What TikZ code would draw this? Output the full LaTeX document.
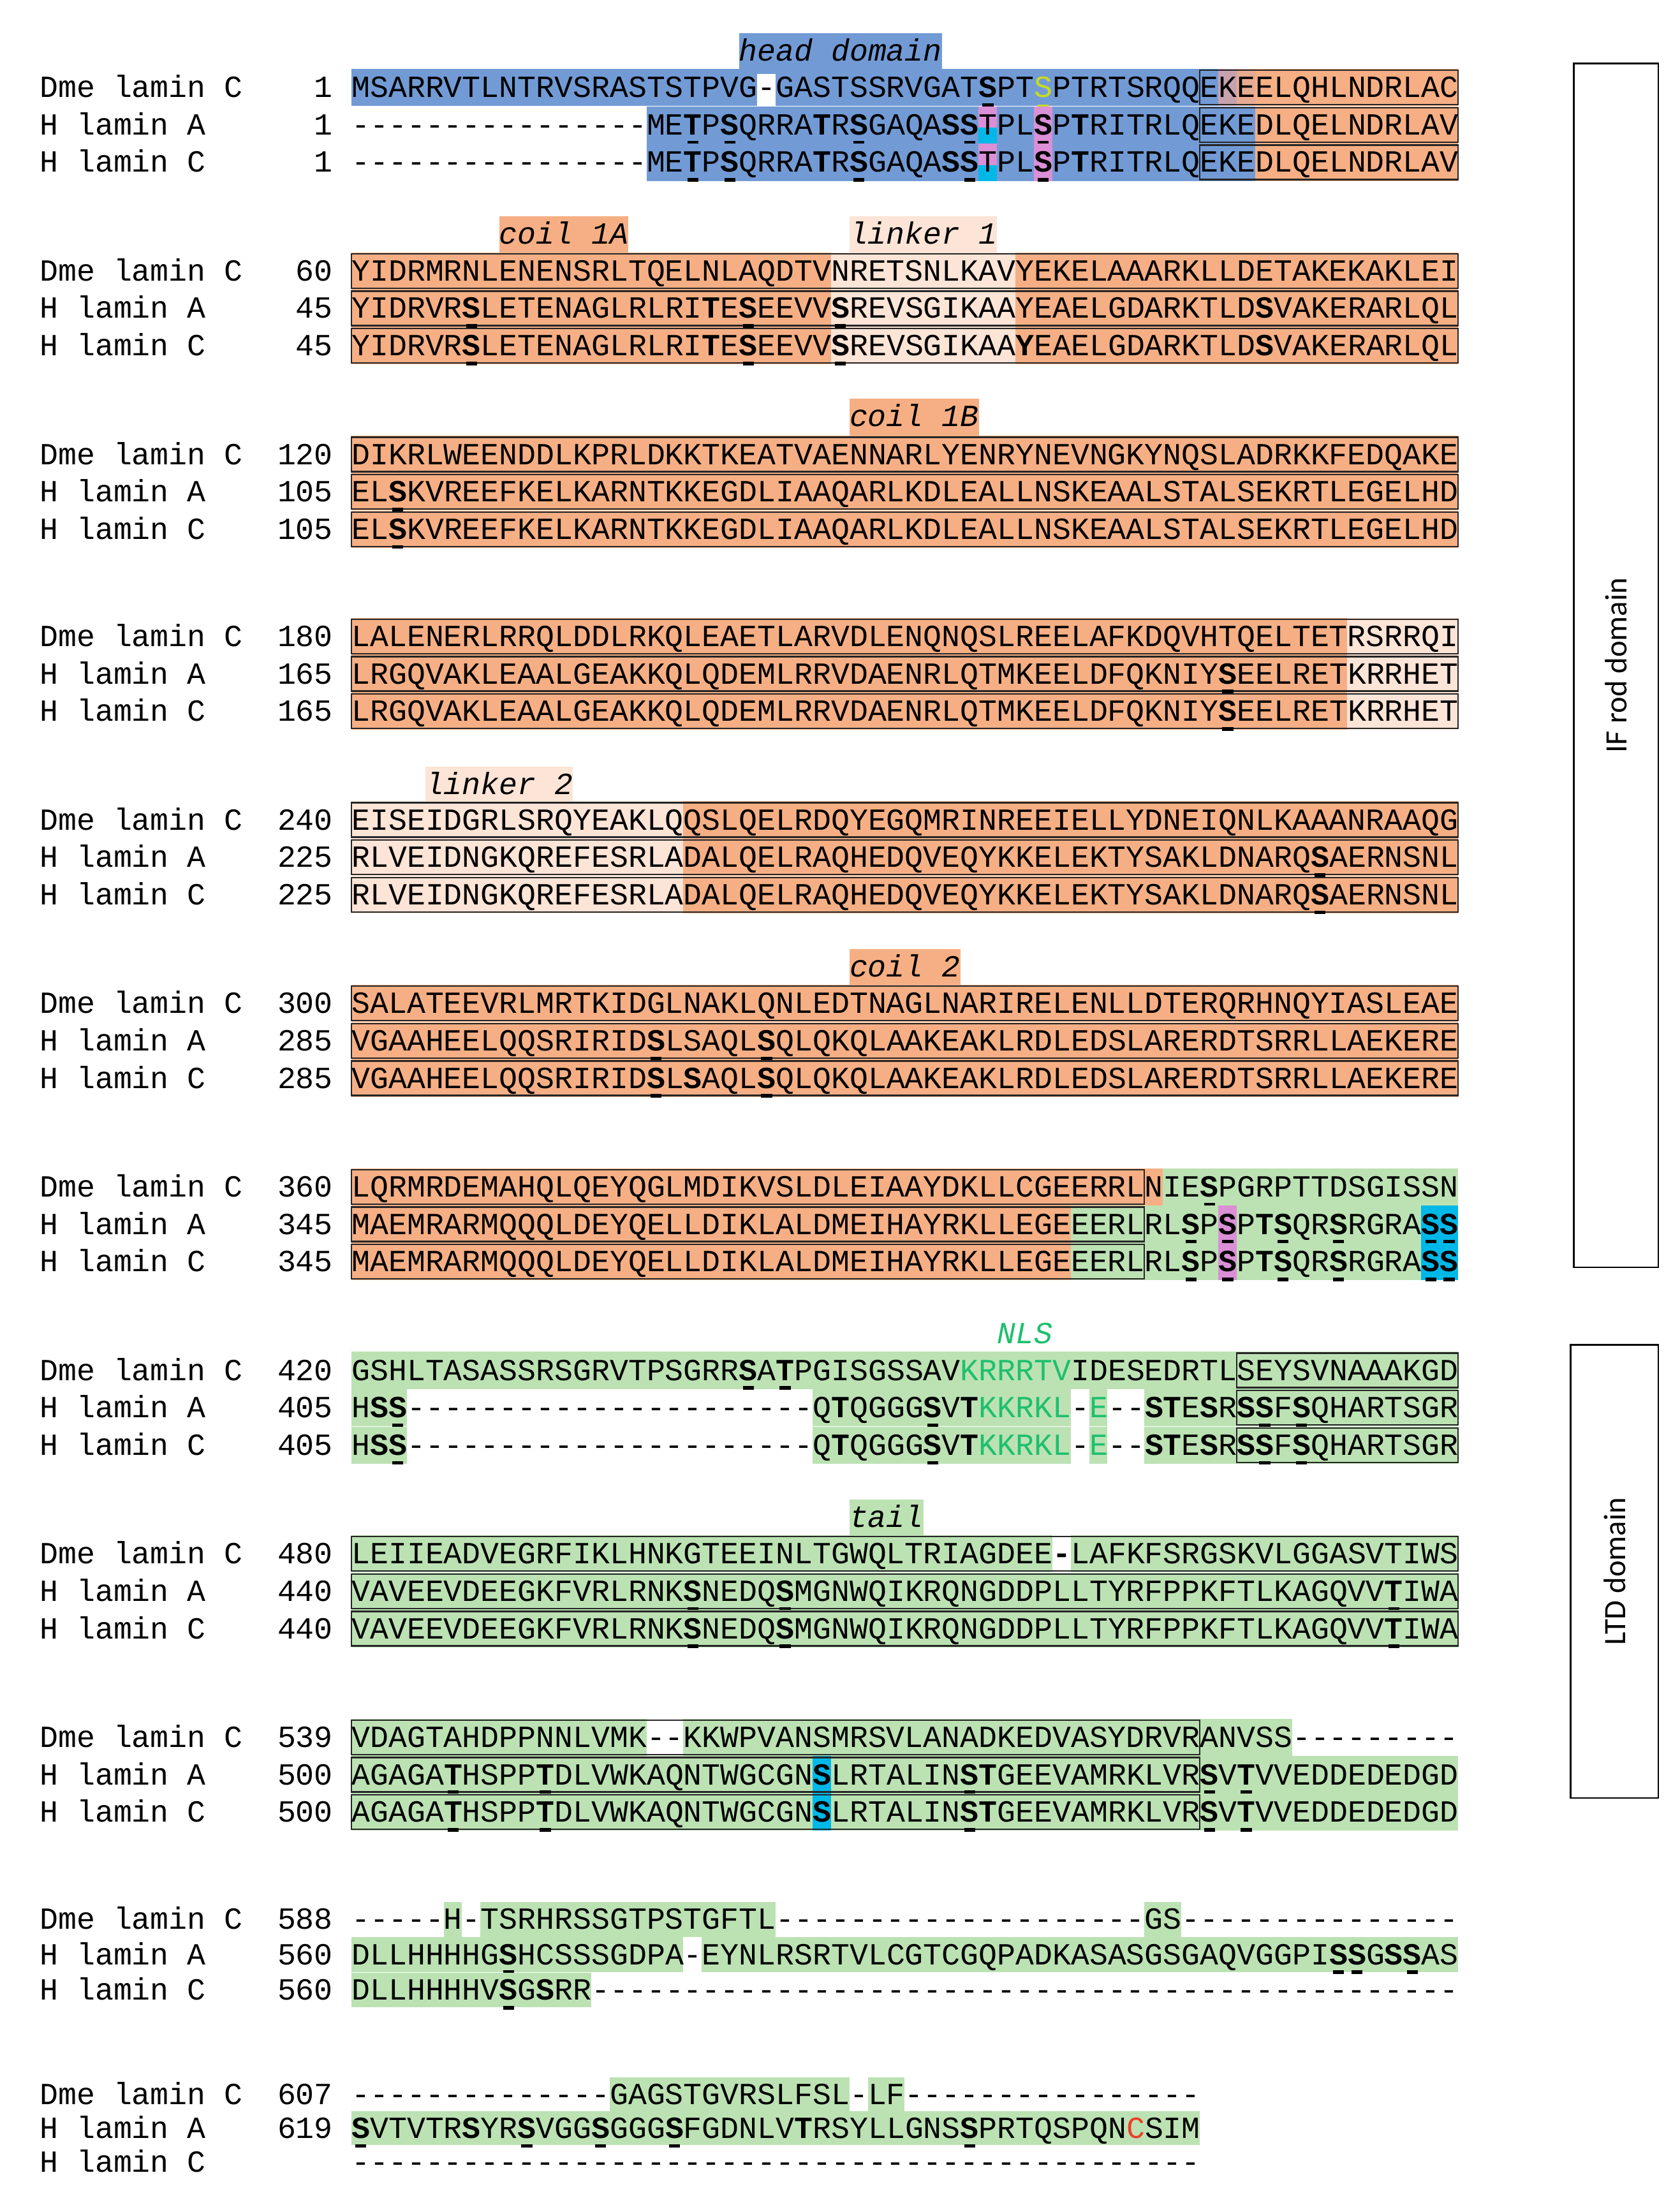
\documentclass[tikz,border=0pt]{standalone}
\usepackage{fontspec}
\setmonofont{Liberation Mono}
\newfontfamily\carlitof{Carlito}
\usetikzlibrary{calc}
\definecolor{hblue}{HTML}{729BD6}
\definecolor{corng}{HTML}{F6AF84}
\definecolor{lpeach}{HTML}{FCE4D6}
\definecolor{tgrn}{HTML}{BCE2B3}
\definecolor{cyn}{HTML}{00B8E8}
\definecolor{pnk}{HTML}{DA8FD6}
\definecolor{nlsc}{HTML}{1FBF6E}
\definecolor{ylw}{HTML}{C8DC1E}
\definecolor{mixa}{HTML}{C7A2AE}
\definecolor{mixb}{HTML}{E6AB92}
\definecolor{redc}{HTML}{F03C28}
\def\cw{13.0667}
\def\hh{13.2}
\newcommand\sqf{\ttfamily\fontsize{21.78}{26}\selectfont}
\newcommand\U[1]{\makebox[0pt][l]{\hspace{2.6pt}\rule[-6.8pt]{7.8pt}{2.6pt}}\textbf{#1}}
\newcommand\B[1]{\textbf{#1}}
\newcommand\Yl[1]{\textcolor{ylw}{\makebox[0pt][l]{\hspace{2.6pt}\rule[-6.8pt]{7.8pt}{1.6pt}}#1}}
\newcommand\G[1]{\textcolor{nlsc}{#1}}
\newcommand\bg[4]{\fill[#1] ({249+#3*\cw},{#2-\hh}) rectangle ({249+#4*\cw},{#2+\hh});}
\newcommand\bx[3]{\draw[boxl] ({249+#2*\cw},{#1-12.2}) rectangle ({249+#3*\cw},{#1+12.2});}
\newcommand\sq[2]{\node[seqt] at (249,{#1+7}) {#2};}
\newcommand\names[6]{%
 \node[lbl] at (28,{#1+7}) {Dme lamin C};\node[num] at (236,{#1+7}) {#4};
 \node[lbl] at (28,{#2+7}) {H lamin A};\node[num] at (236,{#2+7}) {#5};
 \node[lbl] at (28,{#3+7}) {H lamin C};\node[num] at (236,{#3+7}) {#6};}
\newcommand\ann[4]{\node[annt,fill=#1] at ({249+#3*\cw},{#2+7}) {\strut #4};}
\begin{document}
\begin{tikzpicture}[x=1pt,y=-1pt,
 seqt/.style={anchor=base west,inner sep=0pt,font=\sqf},
 lbl/.style={anchor=base west,inner sep=0pt,font=\sqf},
 num/.style={anchor=base east,inner sep=0pt,font=\sqf},
 annt/.style={anchor=base west,inner xsep=0pt,inner ysep=1.5pt,font=\sqf\itshape},
 boxl/.style={draw=black!85,line width=1.1pt},
 domb/.style={draw=black,line width=1.3pt}]
\useasboundingbox (0,0) rectangle (1190,1556);
\fill[white] (0,0) rectangle (1190,1556);
% ---------- Block 1
\ann{hblue}{36}{21}{head domain}
\bg{hblue}{62}{0}{22}\bg{hblue}{62}{23}{47}\bg{mixa}{62}{47}{48}\bg{mixb}{62}{48}{49}\bg{corng}{62}{49}{60}
\bx{62}{46}{60}
\sq{62}{MSARRVTLNTRVSRASTSTPVG-GASTSSRVGAT\U{S}PT\Yl{S}PTRTSRQQEKEELQHLNDRLAC}
\foreach \yy in {88.5,115}{
 \bg{hblue}{\yy}{16}{49}\bg{corng}{\yy}{49}{60}
 \fill[pnk] ({249+34*\cw},{\yy-\hh}) rectangle ({249+35*\cw},{\yy+2});
 \fill[cyn] ({249+34*\cw},{\yy+2}) rectangle ({249+35*\cw},{\yy+\hh});
 \bg{pnk}{\yy}{37}{38}
 \bx{\yy}{46}{60}
 \sq{\yy}{----------------ME\U{T}P\U{S}QRRA\B{T}R\U{S}GAQA\B{S}\U{S}TPL\U{S}P\B{T}RITRLQEKEDLQELNDRLAV}}
\names{62}{88.5}{115}{1}{1}{1}
% ---------- Block 2
\ann{corng}{166}{8}{coil 1A}\ann{lpeach}{166}{27}{linker 1}
\foreach \yy in {192,218.5,245}{\bg{corng}{\yy}{0}{26}\bg{lpeach}{\yy}{26}{36}\bg{corng}{\yy}{36}{60}\bx{\yy}{0}{60}}
\sq{192}{YIDRMRNLENENSRLTQELNLAQDTVNRETSNLKAVYEKELAAARKLLDETAKEKAKLEI}
\sq{218.5}{YIDRVR\U{S}LETENAGLRLRI\B{T}E\U{S}EEVV\U{S}REVSGIKAAYEAELGDARKTLD\B{S}VAKERARLQL}
\sq{245}{YIDRVR\U{S}LETENAGLRLRI\B{T}E\U{S}EEVV\U{S}REVSGIKAA\B{Y}EAELGDARKTLD\B{S}VAKERARLQL}
\names{192}{218.5}{245}{60}{45}{45}
% ---------- Block 3
\ann{corng}{295}{27}{coil 1B}
\foreach \yy in {322,348.5,375}{\bg{corng}{\yy}{0}{60}\bx{\yy}{0}{60}}
\sq{322}{DIKRLWEENDDLKPRLDKKTKEATVAENNARLYENRYNEVNGKYNQSLADRKKFEDQAKE}
\sq{348.5}{EL\U{S}KVREEFKELKARNTKKEGDLIAAQARLKDLEALLNSKEAALSTALSEKRTLEGELHD}
\sq{375}{EL\U{S}KVREEFKELKARNTKKEGDLIAAQARLKDLEALLNSKEAALSTALSEKRTLEGELHD}
\names{322}{348.5}{375}{120}{105}{105}
% ---------- Block 4
\foreach \yy in {451,477.5,504}{\bg{corng}{\yy}{0}{54}\bg{lpeach}{\yy}{54}{60}\bx{\yy}{0}{60}}
\sq{451}{LALENERLRRQLDDLRKQLEAETLARVDLENQNQSLREELAFKDQVHTQELTETRSRRQI}
\sq{477.5}{LRGQVAKLEAALGEAKKQLQDEMLRRVDAENRLQTMKEELDFQKNIY\U{S}EELRETKRRHET}
\sq{504}{LRGQVAKLEAALGEAKKQLQDEMLRRVDAENRLQTMKEELDFQKNIY\U{S}EELRETKRRHET}
\names{451}{477.5}{504}{180}{165}{165}
% ---------- Block 5
\ann{lpeach}{556}{4}{linker 2}
\foreach \yy in {581,607.5,634}{\bg{lpeach}{\yy}{0}{18}\bg{corng}{\yy}{18}{60}\bx{\yy}{0}{60}}
\sq{581}{EISEIDGRLSRQYEAKLQQSLQELRDQYEGQMRINREEIELLYDNEIQNLKAAANRAAQG}
\sq{607.5}{RLVEIDNGKQREFESRLADALQELRAQHEDQVEQYKKELEKTYSAKLDNARQ\U{S}AERNSNL}
\sq{634}{RLVEIDNGKQREFESRLADALQELRAQHEDQVEQYKKELEKTYSAKLDNARQ\U{S}AERNSNL}
\names{581}{607.5}{634}{240}{225}{225}
% ---------- Block 6
\ann{corng}{685}{27}{coil 2}
\foreach \yy in {711,737.5,764}{\bg{corng}{\yy}{0}{60}\bx{\yy}{0}{60}}
\sq{711}{SALATEEVRLMRTKIDGLNAKLQNLEDTNAGLNARIRELENLLDTERQRHNQYIASLEAE}
\sq{737.5}{VGAAHEELQQSRIRID\U{S}LSAQL\U{S}QLQKQLAAKEAKLRDLEDSLARERDTSRRLLAEKERE}
\sq{764}{VGAAHEELQQSRIRID\U{S}L\B{S}AQL\U{S}QLQKQLAAKEAKLRDLEDSLARERDTSRRLLAEKERE}
\names{711}{737.5}{764}{300}{285}{285}
% ---------- Block 7
\bg{corng}{841}{0}{44}\bg{tgrn}{841}{44}{60}\bx{841}{0}{43}
\sq{841}{LQRMRDEMAHQLQEYQGLMDIKVSLDLEIAAYDKLLCGEERRLNIE\U{S}PGRPTTDSGISSN}
\foreach \yy in {867.5,894}{\bg{corng}{\yy}{0}{39}\bg{tgrn}{\yy}{39}{60}\bg{pnk}{\yy}{47}{48}\bg{cyn}{\yy}{58}{60}\bx{\yy}{0}{43}
\sq{\yy}{MAEMRARMQQQLDEYQELLDIKLALDMEIHAYRKLLEGEEERLRL\U{S}P\U{S}P\B{T}\U{S}QR\U{S}RGRA\U{S}\U{S}}}
\names{841}{867.5}{894}{360}{345}{345}
% ---------- Block 8
\node[anchor=base west,inner sep=0pt,font=\sqf\itshape,text=nlsc] at ({249+35*\cw},952) {NLS};
\bg{tgrn}{971}{0}{60}\bx{971}{48}{60}
\sq{971}{GSHLTASASSRSGRVTPSGRR\U{S}A\U{T}PGISGSSAV\G{KRRRTV}IDESEDRTLSEYSVNAAAKGD}
\foreach \yy in {997.5,1024}{\bg{tgrn}{\yy}{0}{3}\bg{tgrn}{\yy}{25}{39}\bg{tgrn}{\yy}{40}{41}\bg{tgrn}{\yy}{43}{60}\bx{\yy}{48}{60}
\sq{\yy}{H\B{S}\U{S}----------------------Q\B{T}QGGG\U{S}V\B{T}\G{KKRKL}-\G{E}--\B{S}\B{T}E\B{S}R\B{S}\U{S}F\U{S}QHARTSGR}}
\names{971}{997.5}{1024}{420}{405}{405}
% ---------- Block 9
\ann{tgrn}{1075}{27}{tail}
\bg{tgrn}{1101}{0}{38}\bg{tgrn}{1101}{39}{60}\bx{1101}{0}{60}
\sq{1101}{LEIIEADVEGRFIKLHNKGTEEINLTGWQLTRIAGDEE\B{-}LAFKFSRGSKVLGGASVTIWS}
\foreach \yy in {1127.5,1154}{\bg{tgrn}{\yy}{0}{60}\bx{\yy}{0}{60}
\sq{\yy}{VAVEEVDEEGKFVRLRNK\U{S}NEDQ\U{S}MGNWQIKRQNGDDPLLTYRFPPKFTLKAGQVV\U{T}IWA}}
\names{1101}{1127.5}{1154}{480}{440}{440}
% ---------- Block 10
\bg{tgrn}{1231}{0}{16}\bg{tgrn}{1231}{18}{51}\bx{1231}{0}{46}
\sq{1231}{VDAGTAHDPPNNLVMK--KKWPVANSMRSVLANADKEDVASYDRVRANVSS---------}
\foreach \yy in {1257.5,1284}{\bg{tgrn}{\yy}{0}{60}\bg{cyn}{\yy}{25}{26}\bx{\yy}{0}{46}
\sq{\yy}{AGAGA\U{T}HSPP\U{T}DLVWKAQNTWGCGN\B{S}LRTALIN\U{S}\B{T}GEEVAMRKLVR\U{S}V\U{T}VVEDDEDEDGD}}
\names{1231}{1257.5}{1284}{539}{500}{500}
% ---------- Block 11
\def\hh{12.3}
\bg{tgrn}{1360}{5}{6}\bg{tgrn}{1360}{7}{23}\bg{tgrn}{1360}{43}{45}
\sq{1360}{-----H-TSRHRSSGTPSTGFTL--------------------GS---------------}
\bg{tgrn}{1385}{0}{18}\bg{tgrn}{1385}{19}{60}
\sq{1385}{DLLHHHHG\U{S}HCSSSGDPA-EYNLRSRTVLCGTCGQPADKASASGSGAQVGGPI\U{S}\U{S}G\B{S}\U{S}AS}
\bg{tgrn}{1410}{0}{13}
\sq{1410}{DLLHHHHV\U{S}G\B{S}RR-----------------------------------------------}
\names{1360}{1385}{1410}{588}{560}{560}
% ---------- Block 12
\def\hh{12}
\bg{tgrn}{1484}{14}{27}\bg{tgrn}{1484}{28}{30}
\sq{1484}{--------------GAGSTGVRSLFSL-LF----------------}
\bg{tgrn}{1508}{0}{46}
\sq{1508}{\U{S}VTVTR\B{S}YR\U{S}VGG\U{S}GGG\U{S}FGDNLV\B{T}RSYLLGNS\U{S}PRTQSPQN\textcolor{redc}{C}SIM}
\sq{1532}{----------------------------------------------}
\names{1484}{1508}{1532}{607}{619}{}
% ---------- Domain boxes
\node[domb,minimum width=60pt,minimum height=853pt,inner sep=0pt] (ifrod) at (1145,471.5) {};
\node[rotate=90,font=\carlitof\fontsize{22}{26}\selectfont,inner sep=0pt] (iftxt) at (ifrod.center) {IF rod domain};
\node[domb,minimum width=62pt,minimum height=321pt,inner sep=0pt] (ltd) at (1144,1113.5) {};
\node[rotate=90,font=\carlitof\fontsize{22}{26}\selectfont,inner sep=0pt] (ltdtxt) at (ltd.center) {LTD domain};
\end{tikzpicture}
\end{document}
